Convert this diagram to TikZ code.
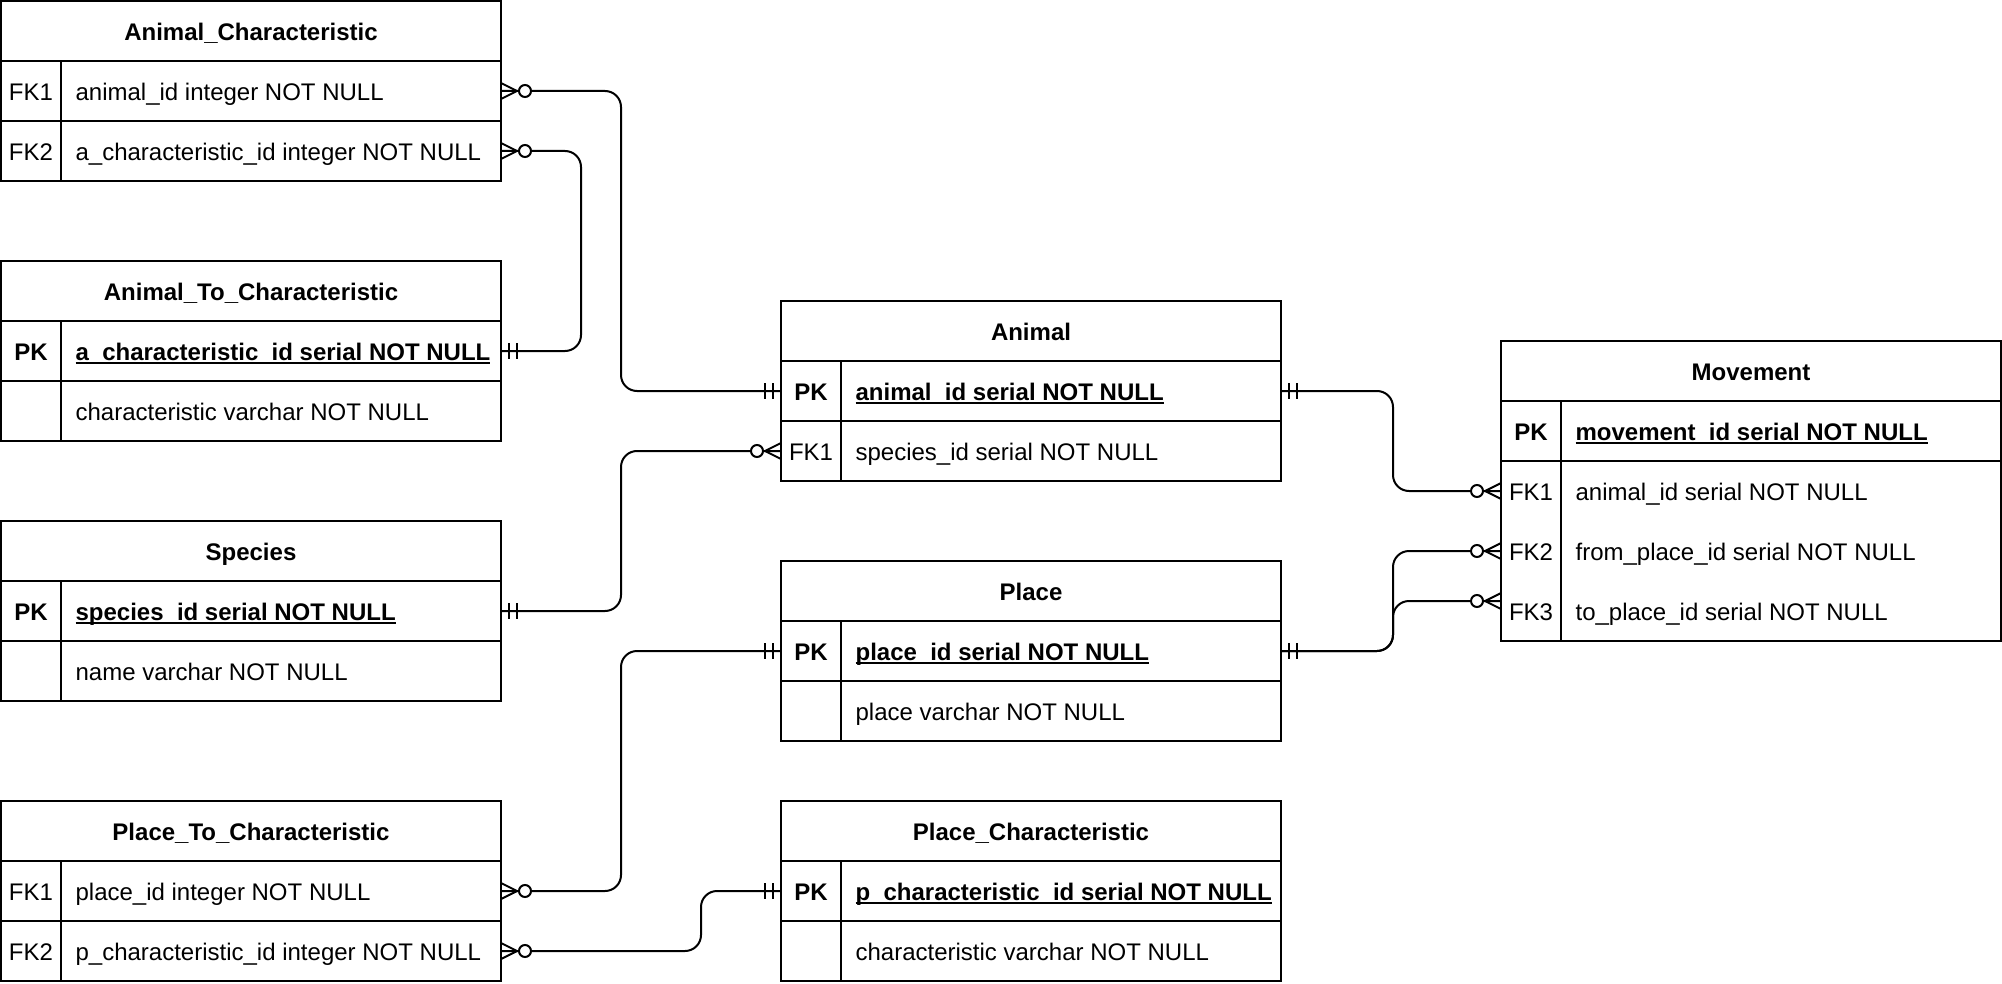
\documentclass[tikz,border=0pt]{standalone}
\usepackage{fontspec}
\setmainfont{Liberation Sans}
\newcommand{\pkul}[1]{\setbox0=\hbox{#1}\rlap{\copy0}\rule[-1.7pt]{\wd0}{0.9pt}}
\tikzset{
  tbl/.style={draw, line width=1pt, fill=white, minimum width=250pt, inner sep=0pt, outer sep=0pt, anchor=north west},
  hdr/.style={minimum width=250pt, minimum height=30pt, inner sep=0pt, outer sep=0pt, anchor=north west, font=\bfseries\fontsize{12}{14}\selectfont, text height=9.2pt, text depth=0pt},
  rowbox/.style={minimum width=250pt, minimum height=30pt, inner sep=0pt, outer sep=0pt, anchor=north west},
  keytxt/.style={inner sep=0pt, outer sep=0pt, anchor=center, font=\fontsize{12}{14}\selectfont, text height=9.4pt, text depth=0pt},
  pktxt/.style={keytxt, font=\bfseries\fontsize{12}{14}\selectfont},
  fldtxt/.style={inner sep=0pt, outer sep=0pt, anchor=west, font=\fontsize{12}{14}\selectfont, text height=9.4pt, text depth=0pt},
  pkfld/.style={fldtxt, font=\bfseries\fontsize{12}{14}\selectfont},
  sepline/.style={line width=1pt},
  conn/.style={line width=1pt, rounded corners=8pt},
  mk/.style={line width=1pt},
}
\newcommand{\rowk}[4]{%
  \node[keytxt] (#1-k#2) at ([xshift=15pt]#1-r#2.west) {#3};
  \node[fldtxt] (#1-f#2) at ([xshift=37.3pt]#1-r#2.west) {#4};}
\newcommand{\rowpk}[3]{%
  \node[pktxt] (#1-k#2) at ([xshift=15pt]#1-r#2.west) {PK};
  \node[pkfld] (#1-f#2) at ([xshift=37.3pt]#1-r#2.west) {\pkul{#3}};}
\newcommand{\rowplain}[3]{%
  \node[fldtxt] (#1-f#2) at ([xshift=37.3pt]#1-r#2.west) {#3};}
\newcommand{\mandone}[2]{\begin{scope}[shift={(#1)}, xscale=#2]\draw[mk] (4,-4) -- (4,4) (8,-4) -- (8,4);\end{scope}}
\newcommand{\zeromany}[2]{\begin{scope}[shift={(#1)}, xscale=#2]\draw[mk] (0,-4) -- (8,0) -- (0,4);\draw[mk, fill=white] (12,0) circle[radius=3pt];\end{scope}}
\begin{document}
\begin{tikzpicture}[x=1pt, y=-1pt]
\fill[white] (-0.5,-0.5) rectangle (1000.5,491.5);
\useasboundingbox (-0.5,-0.5) rectangle (1000.5,491.5);

% ---------- Animal_Characteristic ----------
\node[tbl, minimum height=90pt] (ac) at (0,0) {};
\node[hdr] (ac-h) at (ac.north west) {Animal\_Characteristic};
\node[rowbox] (ac-r1) at (ac-h.south west) {};
\node[rowbox] (ac-r2) at (ac-r1.south west) {};
\draw[sepline] (ac-h.south west) -- (ac-h.south east);
\draw[sepline] (ac-r1.south west) -- (ac-r1.south east);
\draw[sepline] ([xshift=30pt]ac-r1.north west) -- ([xshift=30pt]ac-r2.south west);
\rowk{ac}{1}{FK1}{animal\_id integer NOT NULL}
\rowk{ac}{2}{FK2}{a\_characteristic\_id integer NOT NULL}

% ---------- Animal_To_Characteristic ----------
\node[tbl, minimum height=90pt] (atc) at (0,130) {};
\node[hdr] (atc-h) at (atc.north west) {Animal\_To\_Characteristic};
\node[rowbox] (atc-r1) at (atc-h.south west) {};
\node[rowbox] (atc-r2) at (atc-r1.south west) {};
\draw[sepline] (atc-h.south west) -- (atc-h.south east);
\draw[sepline] (atc-r1.south west) -- (atc-r1.south east);
\draw[sepline] ([xshift=30pt]atc-r1.north west) -- ([xshift=30pt]atc-r2.south west);
\rowpk{atc}{1}{a\_characteristic\_id serial NOT NULL}
\rowplain{atc}{2}{characteristic varchar NOT NULL}

% ---------- Species ----------
\node[tbl, minimum height=90pt] (sp) at (0,260) {};
\node[hdr] (sp-h) at (sp.north west) {Species};
\node[rowbox] (sp-r1) at (sp-h.south west) {};
\node[rowbox] (sp-r2) at (sp-r1.south west) {};
\draw[sepline] (sp-h.south west) -- (sp-h.south east);
\draw[sepline] (sp-r1.south west) -- (sp-r1.south east);
\draw[sepline] ([xshift=30pt]sp-r1.north west) -- ([xshift=30pt]sp-r2.south west);
\rowpk{sp}{1}{species\_id serial NOT NULL}
\rowplain{sp}{2}{name varchar NOT NULL}

% ---------- Place_To_Characteristic ----------
\node[tbl, minimum height=90pt] (ptc) at (0,400) {};
\node[hdr] (ptc-h) at (ptc.north west) {Place\_To\_Characteristic};
\node[rowbox] (ptc-r1) at (ptc-h.south west) {};
\node[rowbox] (ptc-r2) at (ptc-r1.south west) {};
\draw[sepline] (ptc-h.south west) -- (ptc-h.south east);
\draw[sepline] (ptc-r1.south west) -- (ptc-r1.south east);
\draw[sepline] ([xshift=30pt]ptc-r1.north west) -- ([xshift=30pt]ptc-r2.south west);
\rowk{ptc}{1}{FK1}{place\_id integer NOT NULL}
\rowk{ptc}{2}{FK2}{p\_characteristic\_id integer NOT NULL}

% ---------- Animal ----------
\node[tbl, minimum height=90pt] (an) at (390,150) {};
\node[hdr] (an-h) at (an.north west) {Animal};
\node[rowbox] (an-r1) at (an-h.south west) {};
\node[rowbox] (an-r2) at (an-r1.south west) {};
\draw[sepline] (an-h.south west) -- (an-h.south east);
\draw[sepline] (an-r1.south west) -- (an-r1.south east);
\draw[sepline] ([xshift=30pt]an-r1.north west) -- ([xshift=30pt]an-r2.south west);
\rowpk{an}{1}{animal\_id serial NOT NULL}
\rowk{an}{2}{FK1}{species\_id serial NOT NULL}

% ---------- Place ----------
\node[tbl, minimum height=90pt] (pl) at (390,280) {};
\node[hdr] (pl-h) at (pl.north west) {Place};
\node[rowbox] (pl-r1) at (pl-h.south west) {};
\node[rowbox] (pl-r2) at (pl-r1.south west) {};
\draw[sepline] (pl-h.south west) -- (pl-h.south east);
\draw[sepline] (pl-r1.south west) -- (pl-r1.south east);
\draw[sepline] ([xshift=30pt]pl-r1.north west) -- ([xshift=30pt]pl-r2.south west);
\rowpk{pl}{1}{place\_id serial NOT NULL}
\rowplain{pl}{2}{place varchar NOT NULL}

% ---------- Place_Characteristic ----------
\node[tbl, minimum height=90pt] (pc) at (390,400) {};
\node[hdr] (pc-h) at (pc.north west) {Place\_Characteristic};
\node[rowbox] (pc-r1) at (pc-h.south west) {};
\node[rowbox] (pc-r2) at (pc-r1.south west) {};
\draw[sepline] (pc-h.south west) -- (pc-h.south east);
\draw[sepline] (pc-r1.south west) -- (pc-r1.south east);
\draw[sepline] ([xshift=30pt]pc-r1.north west) -- ([xshift=30pt]pc-r2.south west);
\rowpk{pc}{1}{p\_characteristic\_id serial NOT NULL}
\rowplain{pc}{2}{characteristic varchar NOT NULL}

% ---------- Movement ----------
\node[tbl, minimum height=150pt] (mv) at (750,170) {};
\node[hdr] (mv-h) at (mv.north west) {Movement};
\node[rowbox] (mv-r1) at (mv-h.south west) {};
\node[rowbox] (mv-r2) at (mv-r1.south west) {};
\node[rowbox] (mv-r3) at (mv-r2.south west) {};
\node[rowbox] (mv-r4) at (mv-r3.south west) {};
\draw[sepline] (mv-h.south west) -- (mv-h.south east);
\draw[sepline] (mv-r1.south west) -- (mv-r1.south east);
\draw[sepline] ([xshift=30pt]mv-r1.north west) -- ([xshift=30pt]mv-r4.south west);
\rowpk{mv}{1}{movement\_id serial NOT NULL}
\rowk{mv}{2}{FK1}{animal\_id serial NOT NULL}
\rowk{mv}{3}{FK2}{from\_place\_id serial NOT NULL}
\rowk{mv}{4}{FK3}{to\_place\_id serial NOT NULL}

% ---------- Connectors ----------
\draw[conn] (ac-r1.east) -- ([xshift=60pt]ac-r1.east) |- (an-r1.west);
\draw[conn] (ac-r2.east) -- ([xshift=40pt]ac-r2.east) |- (atc-r1.east);
\draw[conn] (sp-r1.east) -- ([xshift=60pt]sp-r1.east) |- (an-r2.west);
\draw[conn] (ptc-r1.east) -- ([xshift=60pt]ptc-r1.east) |- (pl-r1.west);
\draw[conn] (ptc-r2.east) -- ([xshift=100pt]ptc-r2.east) |- (pc-r1.west);
\draw[conn] (an-r1.east) -- ([xshift=56pt]an-r1.east) |- (mv-r2.west);
\draw[conn] (pl-r1.east) -- ([xshift=56pt]pl-r1.east) |- (mv-r3.west);
\draw[conn] (pl-r1.east) -- ([xshift=56pt]pl-r1.east) |- ([yshift=5pt]mv-r4.west);

% ---------- Markers ----------
\zeromany{ac-r1.east}{1}
\mandone{an-r1.west}{-1}
\zeromany{ac-r2.east}{1}
\mandone{atc-r1.east}{1}
\mandone{sp-r1.east}{1}
\zeromany{an-r2.west}{-1}
\zeromany{ptc-r1.east}{1}
\mandone{pl-r1.west}{-1}
\zeromany{ptc-r2.east}{1}
\mandone{pc-r1.west}{-1}
\mandone{an-r1.east}{1}
\zeromany{mv-r2.west}{-1}
\mandone{pl-r1.east}{1}
\zeromany{mv-r3.west}{-1}
\zeromany{[yshift=5pt]mv-r4.west}{-1}
\end{tikzpicture}
\end{document}
